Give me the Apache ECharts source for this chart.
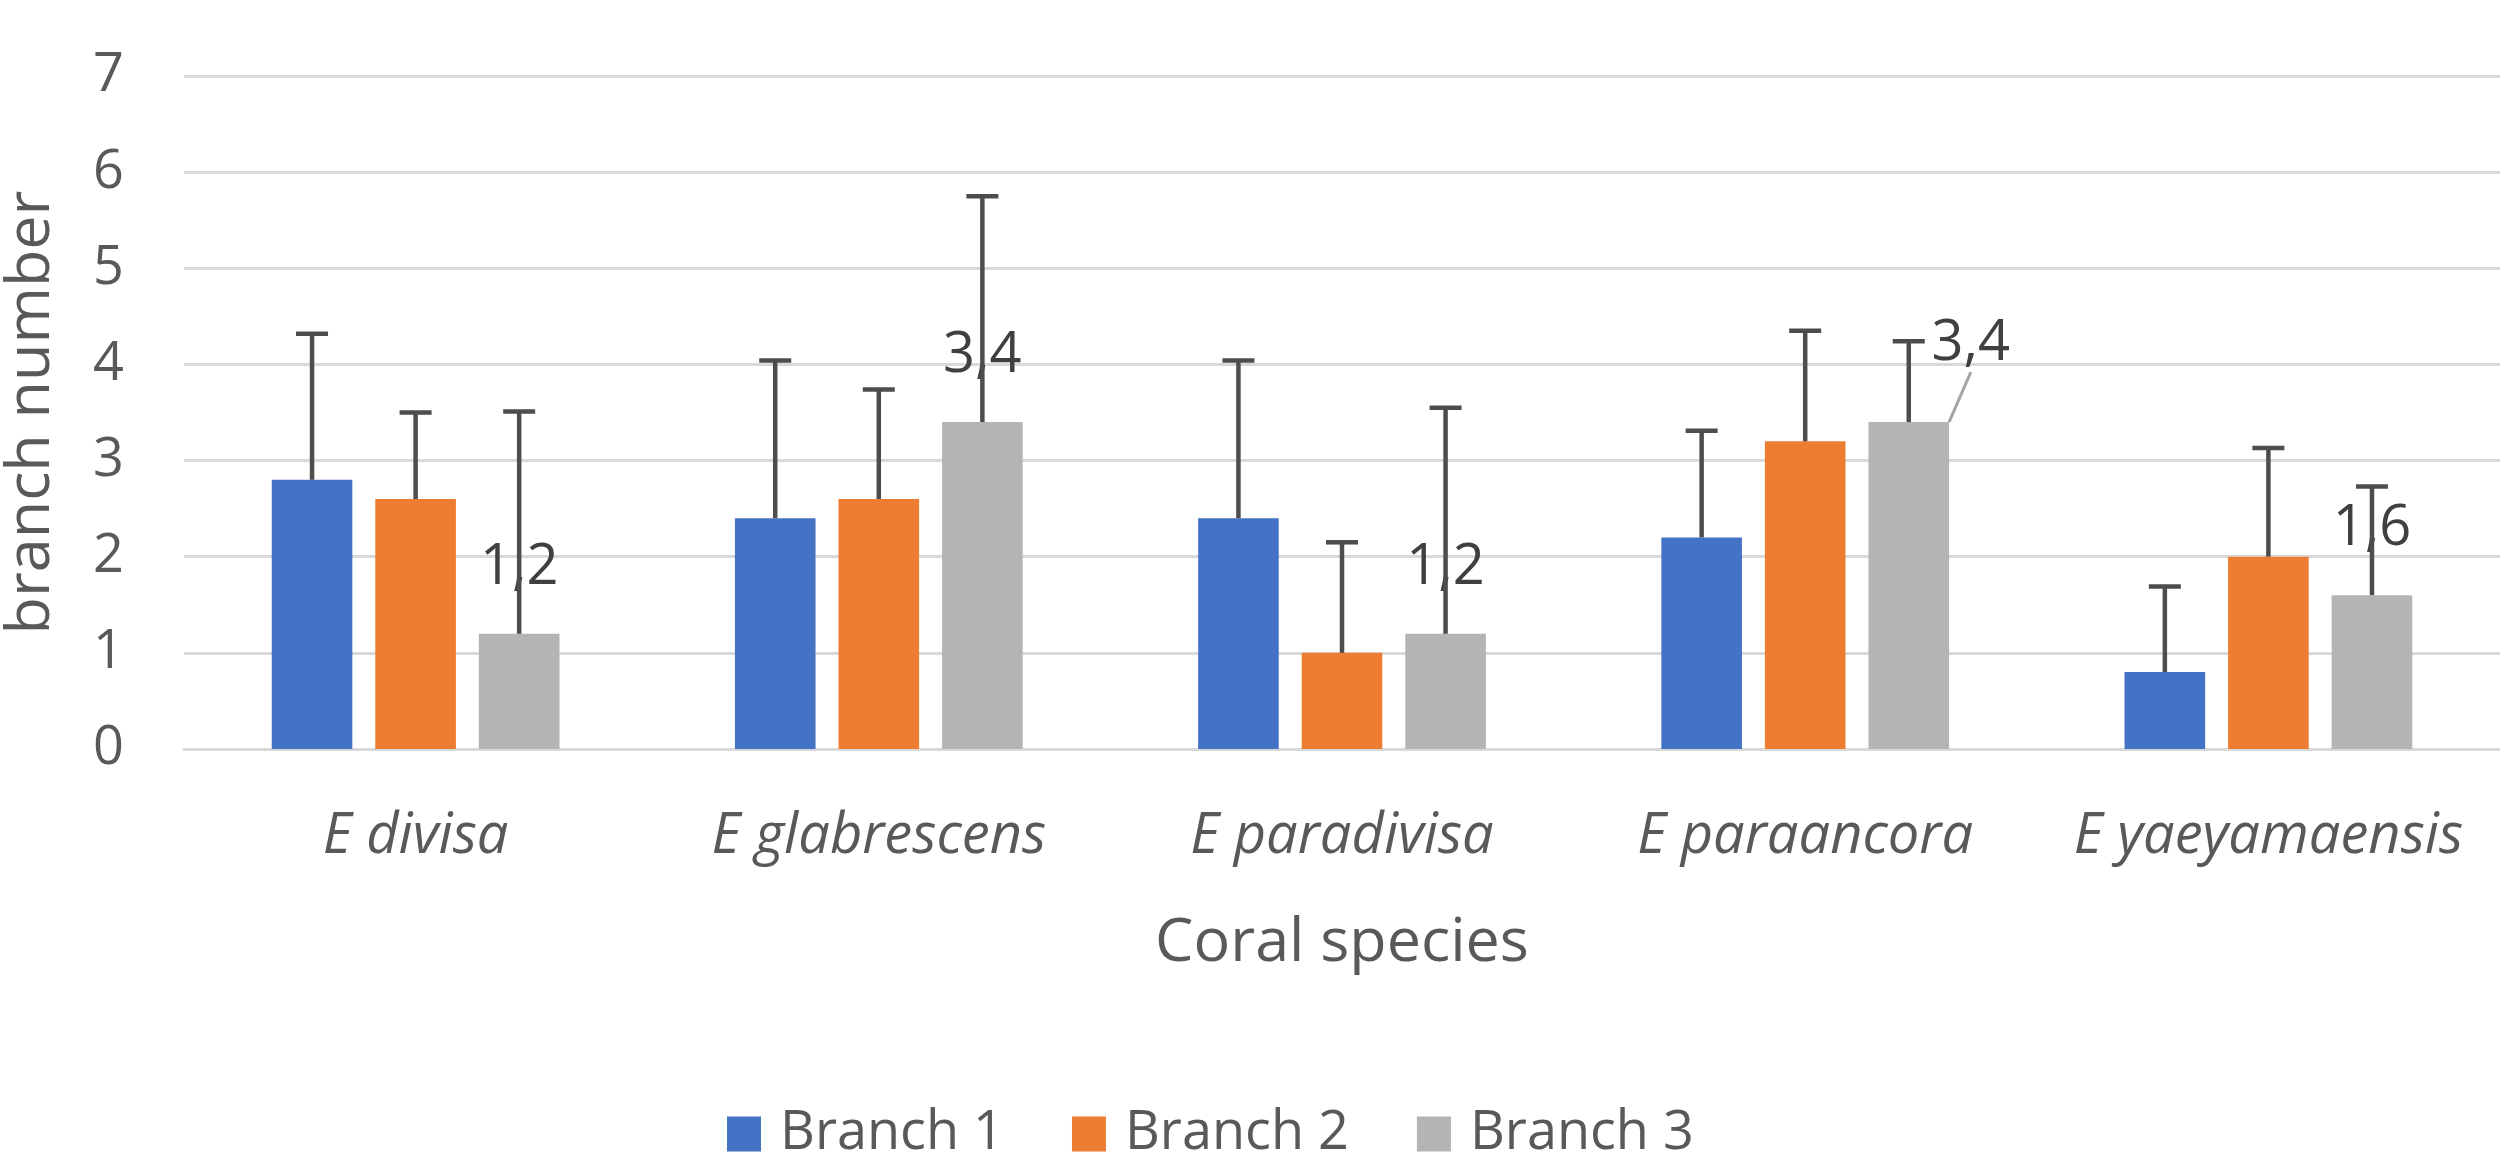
<!DOCTYPE html>
<html><head><meta charset="utf-8">
<script src="https://cdn.jsdelivr.net/npm/echarts@6/dist/echarts.min.js"></script>
<style>html,body{margin:0;padding:0;background:#fff}#c{width:2500px;height:1152px}</style>
</head><body><div id="c"></div>
<script>
const categories = ['E divisa', 'E glabrescens', 'E paradivisa', 'E paraancora', 'E yaeyamaensis'];
const seriesNames = ['Branch 1', 'Branch 2', 'Branch 3'];
const branch1 = [2.8, 2.4, 2.4, 2.2, 0.8];
const branch2 = [2.6, 2.6, 1.0, 3.2, 2.0];
const branch3 = [1.2, 3.4, 1.2, 3.4, 1.6];
// upper error-bar amounts (plus only)
const err1 = [1.52, 1.64, 1.64, 1.11, 0.89];
const err2 = [0.90, 1.14, 1.15, 1.15, 1.13];
const err3 = [2.31, 2.35, 2.35, 0.84, 1.13];
const yTicks = [0, 1, 2, 3, 4, 5, 6, 7];

const colors = ['#4472C4', '#ED7D31', '#B4B4B4'];
const BAR_W = 0.174, BAR_GAP = 0.285;
const FONT = '"Open Sans", "Noto Sans", sans-serif';

function errSeries(si, vals, errs) {
  return {
    type: 'custom', name: seriesNames[si] + ' error', silent: true, z: 4,
    renderItem(params, api) {
      const c = api.value(0);
      const base = api.coord([c, api.value(1)]);
      const top = api.coord([c, api.value(2)]);
      const band = api.size([1, 0])[0];
      const bw = band * BAR_W, gap = bw * BAR_GAP;
      const x = base[0] + (si - 1) * (bw + gap);
      const st = { stroke: '#4D4D4D', lineWidth: 4.5 };
      return { type: 'group', children: [
        { type: 'line', shape: { x1: x, y1: base[1], x2: x, y2: top[1] }, style: st },
        { type: 'line', shape: { x1: x - 16, y1: top[1], x2: x + 16, y2: top[1] }, style: st }
      ]};
    },
    encode: { x: 0, y: [1, 2] },
    data: vals.map((v, i) => [i, v, +(v + errs[i]).toFixed(2)])
  };
}

const chart = echarts.init(document.getElementById('c'));
chart.setOption({
  animation: false,
  backgroundColor: '#ffffff',
  textStyle: { fontFamily: FONT },
  grid: { left: 184, right: 0, top: 76, bottom: 403, containLabel: false, outerBoundsMode: 'none' },
  legend: {
    data: seriesNames, left: 722, top: 1102, icon: 'rect',
    itemWidth: 34, itemHeight: 35, itemGap: 68,
    textStyle: { fontSize: 54, lineHeight: 50, color: '#595959', fontFamily: FONT, padding: [0, 0, 0, 14] }
  },
  xAxis: {
    type: 'category', data: categories,
    name: 'Coral species', nameLocation: 'middle', nameGap: 164,
    nameTextStyle: { fontSize: 61, color: '#595959', fontFamily: FONT },
    axisTick: { show: false },
    axisLine: { lineStyle: { color: '#D9D9D9', width: 3 } },
    axisLabel: { interval: 0, hideOverlap: false, fontSize: 56, fontStyle: 'italic', color: '#595959', margin: 60, fontFamily: FONT }
  },
  yAxis: {
    type: 'value', min: yTicks[0], max: yTicks[yTicks.length - 1], interval: 1,
    name: 'branch number', nameLocation: 'middle', nameGap: 122, nameRotate: 90,
    nameTextStyle: { fontSize: 61, color: '#595959', fontFamily: FONT },
    axisLine: { show: false }, axisTick: { show: false },
    splitLine: { lineStyle: { color: '#D9D9D9', width: 3 } },
    axisLabel: { fontSize: 54, color: '#595959', margin: 60, fontFamily: FONT }
  },
  series: [
    { type: 'bar', name: seriesNames[0], data: branch1, barWidth: (BAR_W * 100) + '%', barGap: (BAR_GAP * 100) + '%', itemStyle: { color: colors[0] }, z: 2 },
    { type: 'bar', name: seriesNames[1], data: branch2, barWidth: (BAR_W * 100) + '%', barGap: (BAR_GAP * 100) + '%', itemStyle: { color: colors[1] }, z: 2 },
    { type: 'bar', name: seriesNames[2], data: branch3, barWidth: (BAR_W * 100) + '%', barGap: (BAR_GAP * 100) + '%', itemStyle: { color: colors[2] }, z: 2,
      label: { show: true, position: 'top', distance: 38, fontSize: 56, lineHeight: 56, color: '#404040', fontFamily: FONT,
        formatter: p => String(p.value).replace('.', ',') },
      labelLine: { show: true, lineStyle: { color: '#A5A5A5', width: 3 } },
      labelLayout: p => (p.dataIndex === 3 ? { dx: 62, dy: -12 } : {})
    },
    errSeries(0, branch1, err1),
    errSeries(1, branch2, err2),
    errSeries(2, branch3, err3)
  ]
});
</script></body></html>
